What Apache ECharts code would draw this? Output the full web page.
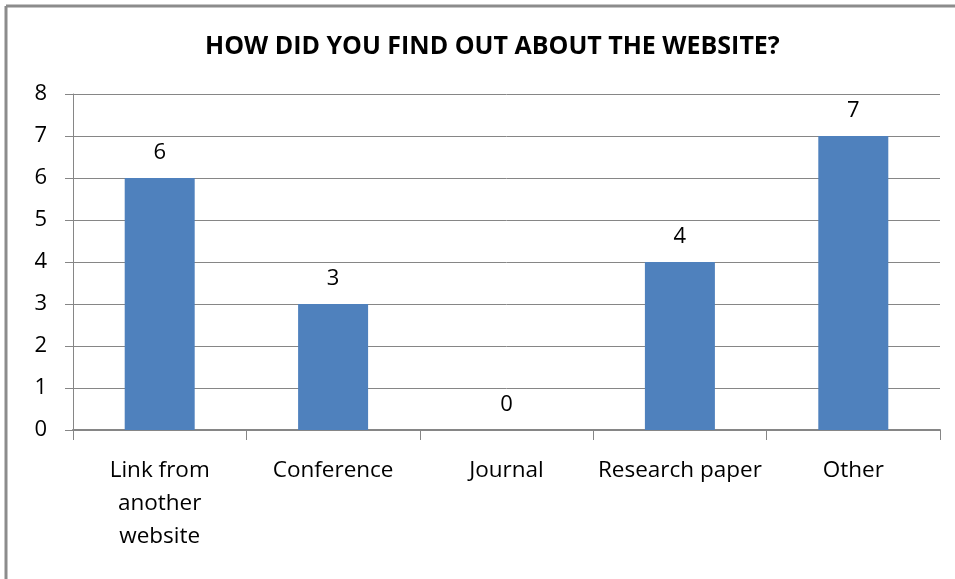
<!DOCTYPE html>
<html>
<head>
<meta charset="utf-8">
<script src="https://cdn.jsdelivr.net/npm/echarts@6/dist/echarts.min.js"></script>
<style>
html,body{margin:0;padding:0;background:#fff;}
#c{width:955px;height:579px;}
</style>
</head>
<body>
<div id="c"></div>
<script>
var titleText = 'HOW DID YOU FIND OUT ABOUT THE WEBSITE?';
var categories = ['Link from\nanother\nwebsite', 'Conference', 'Journal', 'Research paper', 'Other'];
var values = [6, 3, 0, 4, 7];
var yTicks = [0, 1, 2, 3, 4, 5, 6, 7, 8];

var FONT = 'Open Sans';
var chart = echarts.init(document.getElementById('c'), null, {renderer: 'canvas'});
chart.setOption({
  backgroundColor: '#fff',
  animation: false,
  title: {
    text: titleText,
    left: 200,
    top: 29,
    textStyle: {fontFamily: FONT, fontSize: 25, fontWeight: 'bold', color: '#000'}
  },
  grid: {left: 73, right: 15, top: 94, bottom: 149, containLabel: false},
  xAxis: {
    type: 'category',
    data: categories,
    axisLine: {lineStyle: {color: '#868686', width: 2}},
    axisTick: {show: true, length: 10, alignWithLabel: false, lineStyle: {color: '#868686', width: 1}},
    axisLabel: {fontFamily: FONT, fontSize: 22.5, color: '#000', margin: 24, lineHeight: 33, interval: 0}
  },
  yAxis: {
    type: 'value',
    min: yTicks[0],
    max: yTicks[yTicks.length - 1],
    interval: 1,
    axisLine: {show: true, lineStyle: {color: '#868686', width: 1}},
    axisTick: {show: true, length: 8, lineStyle: {color: '#868686'}},
    axisLabel: {fontFamily: FONT, fontSize: 22, color: '#000', margin: 26},
    splitLine: {show: true, lineStyle: {color: '#868686', width: 1}}
  },
  series: [{
    type: 'bar',
    data: values,
    barWidth: 70,
    itemStyle: {color: '#4F81BD'},
    label: {show: true, position: 'top', distance: 14, fontFamily: FONT, fontSize: 22, color: '#000'}
  }],
  graphic: [
    {type: 'line', shape: {x1: 6, y1: 6, x2: 6, y2: 579}, style: {stroke: '#8c8c8c', lineWidth: 3}},
    {type: 'line', shape: {x1: 6, y1: 6, x2: 955, y2: 6}, style: {stroke: '#8c8c8c', lineWidth: 3}}
  ]
});
</script>
</body>
</html>
